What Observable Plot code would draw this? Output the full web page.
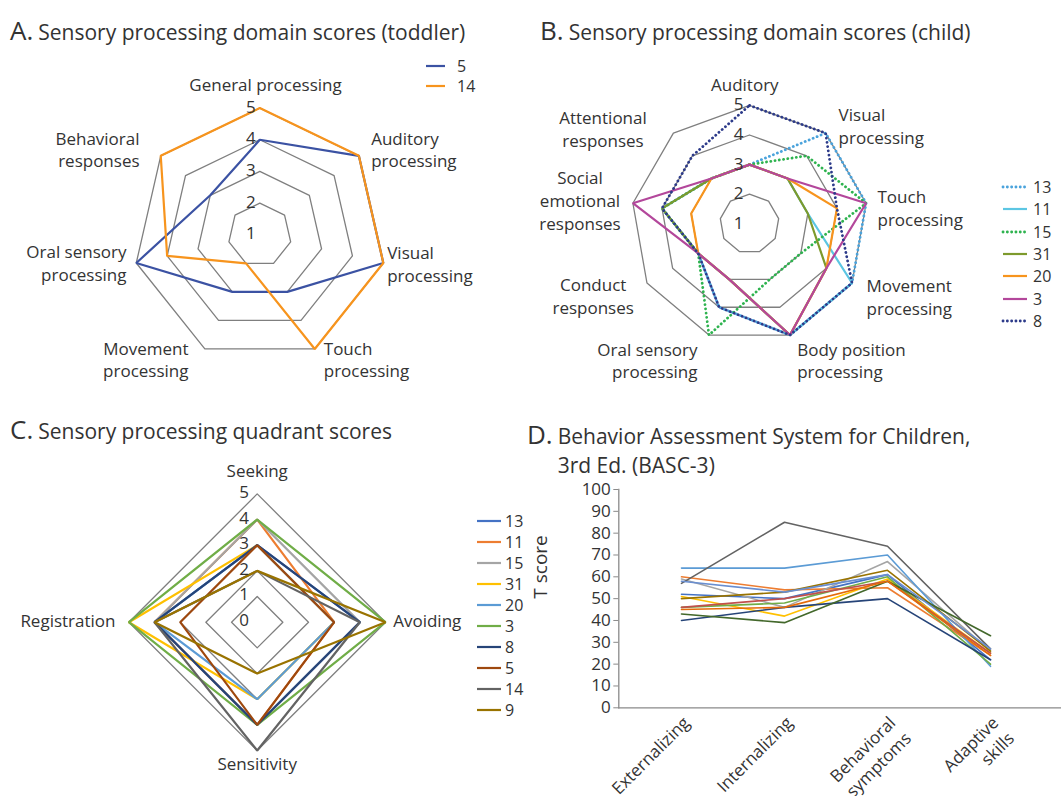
<!DOCTYPE html>
<html>
<head>
<meta charset="utf-8">
<script src="https://cdn.jsdelivr.net/npm/d3@7"></script>
<script src="https://cdn.jsdelivr.net/npm/@observablehq/plot@0.6"></script>
<style>
  html, body { margin: 0; padding: 0; background: #fff; }
  body { font-family: "Open Sans", sans-serif; color: #333; }
  #root { position: relative; width: 1061px; height: 796px; overflow: hidden; background: #fff; }
  .layer { position: absolute; left: 0; top: 0; }
  .title { position: absolute; white-space: nowrap; font-size: 21px; line-height: 27px; color: #333; }
  .title .big { font-size: 26px; margin-right: 5px; }
  .legend { position: absolute; font-size: 16px; color: #333; }
  .legend .row { position: absolute; white-space: nowrap; height: 20px; line-height: 20px; }
  .legend svg { position: absolute; left: 0; top: 0; overflow: visible; }
  .legend span { position: absolute; top: 0; }
</style>
</head>
<body>
<div id="root"></div>
<script>
// ---------------- DATA ----------------
// Panel A: toddler domain scores
const axesA = ["General processing", "Auditory\nprocessing", "Visual\nprocessing", "Touch\nprocessing",
               "Movement\nprocessing", "Oral sensory\nprocessing", "Behavioral\nresponses"];
const seriesA = ["5", "14"];
const scoresA_5  = [4, 5, 5, 3, 3, 5, 3];
const scoresA_14 = [5, 5, 5, 5, 2, 4, 5];
const ticksA = [1, 2, 3, 4, 5];

// Panel B: child domain scores
const axesB = ["Auditory", "Visual\nprocessing", "Touch\nprocessing", "Movement\nprocessing",
               "Body position\nprocessing", "Oral sensory\nprocessing", "Conduct\nresponses",
               "Social\nemotional\nresponses", "Attentional\nresponses"];
const seriesB = ["13", "11", "15", "31", "20", "3", "8"];
const scoresB_13 = [3, 5, 5, 5, 5, 4, 3, 4, 3];
const scoresB_11 = [3, 3, 3, 5, 5, 3, 3, 4, 3];
const scoresB_15 = [3, 4, 5, 3, 3, 5, 3, 4, 3];
const scoresB_31 = [3, 3, 3, 4, 5, 3, 3, 4, 3];
const scoresB_20 = [3, 3, 4, 4, 5, 3, 3, 3, 3];
const scoresB_3  = [3, 3, 5, 4, 5, 3, 3, 5, 3];
const scoresB_8  = [5, 5, 4, 5, 5, 4, 3, 4, 4];
const ticksB = [1, 2, 3, 4, 5];

// Panel C: quadrant scores
const axesC = ["Seeking", "Avoiding", "Sensitivity", "Registration"];
const seriesC = ["13", "11", "15", "31", "20", "3", "8", "5", "14", "9"];
const scoresC_13 = [3, 4, 4, 4];
const scoresC_11 = [4, 3, 4, 4];
const scoresC_15 = [4, 4, 4, 4];
const scoresC_31 = [3, 3, 3, 5];
const scoresC_20 = [3, 3, 3, 4];
const scoresC_3  = [4, 5, 4, 5];
const scoresC_8  = [3, 4, 4, 4];
const scoresC_5  = [3, 3, 4, 3];
const scoresC_14 = [2, 4, 5, 4];
const scoresC_9  = [2, 5, 2, 4];
const ticksC = [0, 1, 2, 3, 4, 5];

// Panel D: BASC-3 T scores
const categoriesD = ["Externalizing", "Internalizing", "Behavioral\nsymptoms", "Adaptive\nskills"];
const tScores = [
  [52, 50, 61, 22],
  [60, 54, 55, 24],
  [59, 46, 67, 26],
  [51, 42, 59, 25],
  [64, 64, 70, 19],
  [46, 48, 60, 20],
  [40, 46, 50, 22],
  [46, 50, 58, 25],
  [57, 85, 74, 27],
  [50, 53, 63, 26],
  [43, 39, 58, 33],
  [58, 53, 61, 27],
  [45, 46, 58, 24]
];
const ticksD = [0, 10, 20, 30, 40, 50, 60, 70, 80, 90, 100];

// ---------------- STYLES / LAYOUT ----------------
const colorsA = ["#3b52a3", "#f7941d"];
const colorsB = ["#4aa3dc", "#5cc6e3", "#2eb34f", "#7d9a2c", "#f7941d", "#b3479b", "#2d3b8a"];
const dottedB = [true, false, true, false, false, false, true];
const colorsC = ["#4472c4", "#ed7d31", "#a5a5a5", "#ffc000", "#5b9bd5", "#70ad47", "#264478", "#9e480e", "#636363", "#997300"];
const colorsD = ["#4472c4", "#ed7d31", "#a5a5a5", "#ffc000", "#5b9bd5", "#70ad47", "#264478", "#c0504d",
                 "#636363", "#997300", "#43682b", "#698ed0", "#e46c0a"];
// label placement: [dx, dy, anchor] relative to outer vertex (px)
const labelPosA = [[5.7, -24.3, "middle"], [12.3, -6.9, "start"], [3.9, 0, "start"], [9, 9.8, "start"],
                   [-16.3, 9.8, "end"], [-9.8, -0.5, "end"], [-21.2, -6.9, "end"]];
const labelPosB = [[-4.7, -22, "middle"], [13, -8, "start"], [11.4, 3.8, "start"], [14.5, 13, "start"],
                   [7.2, 24.7, "start"], [-11.5, 24.7, "end"], [-53.8, 12.5, "middle"],
                   [-52.9, -3.5, "middle"], [-70.4, -4.8, "middle"]];
const labelPosC = [[0, -24.1, "middle"], [7.7, -2.7, "start"], [0, 12.7, "middle"], [-13.4, -2.7, "end"]];

const W = 1061, H = 796;
const FONT = "'Open Sans', sans-serif";
const root = document.getElementById("root");

function radar(cfg) {
  const {axes, names, values, colors, dotted, vmin, vmax, rings, ticks, cx, cy, R, labelPos, tickDx, tickDy, lineWidth} = cfg;
  const k = R / (vmax - vmin);
  const n = axes.length;
  const pos = (v, i) => {
    const a = 2 * Math.PI * i / n;
    return {x: (v - vmin) * Math.sin(a), y: (v - vmin) * Math.cos(a)};
  };
  const grid = rings.flatMap(r => axes.map((_, i) => ({ring: r, ...pos(r, i)})));
  const marks = [
    Plot.line(grid, {x: "x", y: "y", z: "ring", curve: "linear-closed", stroke: "#7f7f7f", strokeWidth: 1.3})
  ];
  names.forEach((name, s) => {
    const rows = axes.map((axis, i) => ({name, axis, value: values[s][i], ...pos(values[s][i], i)}));
    const isDot = dotted && dotted[s];
    marks.push(Plot.line(rows, {
      x: "x", y: "y", curve: "linear-closed", stroke: colors[s],
      strokeWidth: isDot ? lineWidth + 0.6 : lineWidth,
      strokeDasharray: isDot ? "0.1 4.2" : null,
      strokeLinecap: isDot ? "round" : "butt",
      strokeLinejoin: "miter"
    }));
  });
  marks.push(Plot.text(ticks, {
    x: () => 0, y: t => t - vmin, text: t => String(t),
    dx: tickDx, dy: tickDy, fontSize: 17, fill: "#333"
  }));
  const labels = axes.map((axis, i) => {
    const p = pos(vmax, i);
    const [ddx, ddy, anchor] = labelPos[i];
    return {axis, anchor, x: p.x + ddx / k, y: p.y - ddy / k};
  });
  for (const anchor of ["start", "middle", "end"]) {
    marks.push(Plot.text(labels.filter(d => d.anchor === anchor), {
      x: "x", y: "y", text: "axis", textAnchor: anchor, lineAnchor: "middle",
      lineHeight: 1.33, fontSize: 17, fill: "#333"
    }));
  }
  const svg = Plot.plot({
    width: W, height: H,
    marginTop: 0, marginRight: 0, marginBottom: 0, marginLeft: 0,
    x: {domain: [-cx / k, (W - cx) / k], range: [0, W], axis: null},
    y: {domain: [-(H - cy) / k, cy / k], range: [H, 0], axis: null},
    style: {fontFamily: FONT, background: "transparent", overflow: "visible", color: "#333"},
    marks
  });
  const div = document.createElement("div");
  div.className = "layer";
  div.appendChild(svg);
  root.appendChild(div);
}

radar({
  axes: axesA, names: seriesA, values: [scoresA_5, scoresA_14], colors: colorsA,
  vmin: 1, vmax: 5, rings: [2, 3, 4, 5], ticks: ticksA,
  cx: 259.3, cy: 234.3, R: 126.7, labelPos: labelPosA, tickDx: -9, tickDy: -1, lineWidth: 2.2
});
radar({
  axes: axesB, names: seriesB,
  values: [scoresB_13, scoresB_11, scoresB_15, scoresB_31, scoresB_20, scoresB_3, scoresB_8],
  colors: colorsB, dotted: dottedB,
  vmin: 1, vmax: 5, rings: [2, 3, 4, 5], ticks: ticksB,
  cx: 749, cy: 223.3, R: 118.4, labelPos: labelPosB, tickDx: -11, tickDy: -0.5, lineWidth: 2.2
});
radar({
  axes: axesC, names: seriesC,
  values: [scoresC_13, scoresC_11, scoresC_15, scoresC_31, scoresC_20, scoresC_3, scoresC_8, scoresC_5, scoresC_14, scoresC_9],
  colors: colorsC,
  vmin: 0, vmax: 5, rings: [1, 2, 3, 4, 5], ticks: ticksC,
  cx: 256.7, cy: 621.7, R: 128.3, labelPos: labelPosC, tickDx: -13, tickDy: -1.5, lineWidth: 2.2
});

// ---------------- Panel D ----------------
const rowsD = tScores.flatMap((vals, s) => vals.map((v, i) => ({series: s, category: categoriesD[i], value: v})));
const plotD = Plot.plot({
  width: 541, height: 326,
  marginLeft: 98.3, marginRight: 0, marginTop: 19, marginBottom: 88.7,
  x: {type: "point", domain: categoriesD, range: [161, 470], padding: 0, align: 0.5, axis: null},
  y: {domain: [0, 100], axis: null},
  style: {fontFamily: FONT, background: "transparent", overflow: "visible", color: "#333"},
  marks: [
    Plot.axisY({ticks: ticksD, tickSize: 5, tickPadding: 3, fontSize: 17, stroke: "#8a8a8a", fill: "#333", label: null}),
    Plot.frame({anchor: "left", stroke: "#8a8a8a", strokeWidth: 1.3}),
    Plot.frame({anchor: "bottom", stroke: "#8a8a8a", strokeWidth: 1.3}),
    Plot.text(categoriesD, {x: d => d, frameAnchor: "bottom", rotate: -45, textAnchor: "end",
      lineAnchor: "top", lineHeight: 1.3, dx: -2, dy: 5, fontSize: 17, fill: "#333"}),
    Plot.text(["T score"], {frameAnchor: "left", rotate: -90, dx: -78, fontSize: 19, fill: "#333"}),
    Plot.line(rowsD, {x: "category", y: "value", z: "series", stroke: d => colorsD[d.series], strokeWidth: 1.6})
  ]
});
const divD = document.createElement("div");
divD.className = "layer";
divD.style.left = "520px";
divD.style.top = "470px";
divD.appendChild(plotD);
root.appendChild(divD);

// ---------------- Titles ----------------
function title(x, y, letter, lines) {
  const d = document.createElement("div");
  d.className = "title";
  d.style.left = x + "px";
  d.style.top = y + "px";
  d.innerHTML = `<span class="big">${letter}</span>${lines[0]}` +
    (lines[1] ? `<br><span style="visibility:hidden" class="big">${letter}</span>${lines[1]}` : "");
  root.appendChild(d);
}
title(10, 17, "A.", ["Sensory processing domain scores (toddler)"]);
title(540, 17, "B.", ["Sensory processing domain scores (child)"]);
title(10, 416, "C.", ["Sensory processing quadrant scores"]);
title(527, 421, "D.", ["Behavior Assessment System for Children,", "3rd Ed. (BASC-3)"]);

// ---------------- Legends ----------------
function legend(x, y, step, names, colors, dotted, swatchW, textGap) {
  const box = document.createElement("div");
  box.className = "legend";
  box.style.left = x + "px";
  box.style.top = y + "px";
  root.appendChild(box);
  names.forEach((nm, i) => {
    const row = document.createElement("div");
    row.className = "row";
    row.style.top = (i * step) + "px";
    const isDot = dotted && dotted[i];
    row.innerHTML = `<svg width="${swatchW}" height="20"><line x1="1" x2="${swatchW - 1}" y1="10" y2="10" stroke="${colors[i]}" stroke-width="${isDot ? 2.8 : 2.2}" ${isDot ? 'stroke-dasharray="0.1 4.2" stroke-linecap="round"' : ''}/></svg><span style="left:${swatchW + textGap}px">${nm}</span>`;
    box.appendChild(row);
  });
}
legend(425, 56, 19.5, seriesA, colorsA, null, 21, 11);
legend(1002, 177, 22.3, seriesB, colorsB, dottedB, 26, 5);
legend(476, 511, 21, seriesC, colorsC, null, 26, 3);
</script>
</body>
</html>
